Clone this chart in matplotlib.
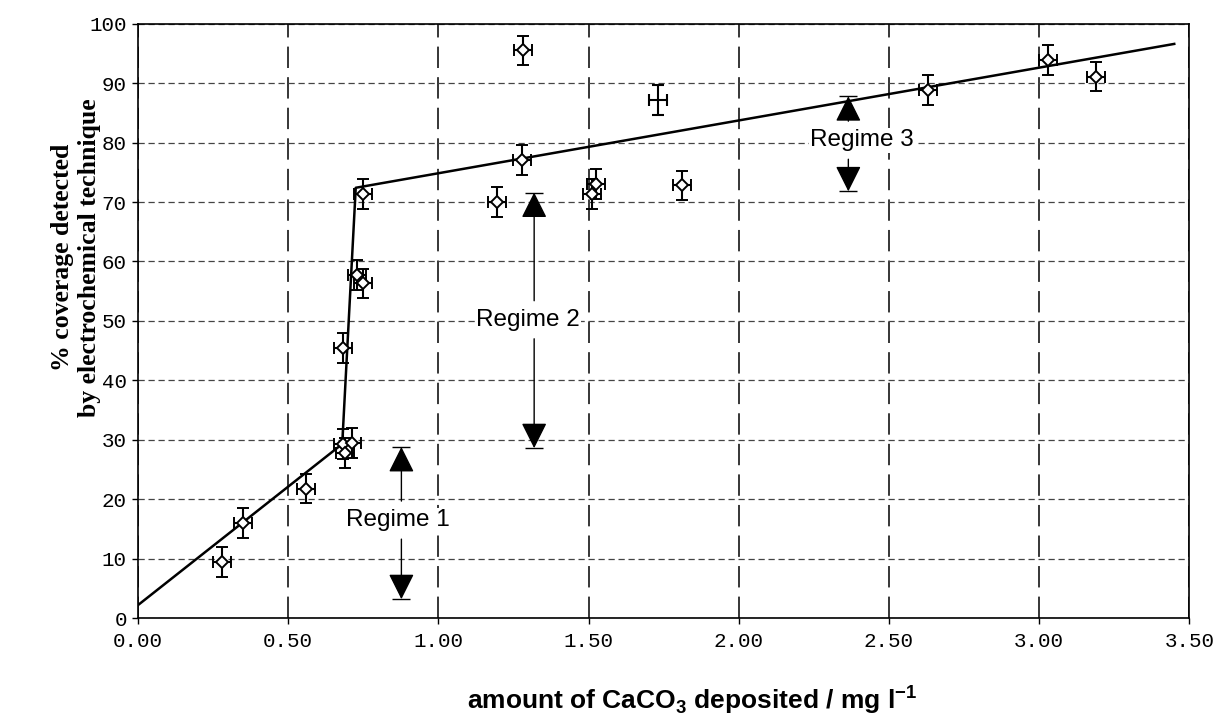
import matplotlib
matplotlib.use('Agg')
import matplotlib.pyplot as plt
from matplotlib.ticker import FormatStrFormatter

plt.rcParams['mathtext.fontset'] = 'custom'
plt.rcParams['mathtext.rm'] = 'Liberation Sans:bold'
plt.rcParams['mathtext.bf'] = 'Liberation Sans:bold'

# measured coverage vs amount of CaCO3 deposited
amount = [0.28, 0.35, 0.56, 0.683, 0.688, 0.711, 0.683, 0.73, 0.748, 0.748,
          1.196, 1.277, 1.283, 1.51, 1.525, 1.81, 2.63, 3.03, 3.19]
coverage = [9.4, 16.0, 21.8, 29.3, 27.8, 29.5, 45.5, 57.7, 56.3, 71.3,
            70.0, 77.1, 95.5, 71.3, 73.0, 72.8, 88.9, 93.9, 91.1]
amount_err = 0.03
coverage_err = 2.5

# one run plotted with error bars only
extra_amount = [1.731]
extra_coverage = [87.2]

# piecewise line through the three regimes
fit_amount = [0.0, 0.68, 0.725, 3.45]
fit_coverage = [2.2, 29.3, 72.4, 96.6]

regime_labels = ['Regime 1', 'Regime 2', 'Regime 3']
regime_x = [0.877, 1.319, 2.365]
regime_label_x = [0.864, 1.299, 2.41]
regime_label_y = [16.5, 50.2, 80.4]
regime_top = [28.8, 71.6, 87.8]
regime_bottom = [3.2, 28.6, 71.8]

fig = plt.figure(figsize=(12.21, 7.18), dpi=100)
ax = fig.add_axes([0.113, 0.139, 0.861, 0.828])

ax.set_xlim(0, 3.5)
ax.set_ylim(0, 100)
ax.set_xticks([0.5 * i for i in range(8)])
ax.set_yticks(range(0, 101, 10))
ax.xaxis.set_major_formatter(FormatStrFormatter('%.2f'))

# gridlines: long dashes vertically, short dashes horizontally
ax.xaxis.grid(True, linestyle=(0, (14, 6)), color='black', linewidth=1.1)
ax.yaxis.grid(True, linestyle=(0, (5, 3)), color='#444444', linewidth=0.9)
ax.set_axisbelow(True)

for sp in ax.spines.values():
    sp.set_color('black')
    sp.set_linewidth(1.2)

ax.tick_params(direction='out', length=4, width=1, labelsize=15, pad=4)
for lbl in ax.get_xticklabels() + ax.get_yticklabels():
    lbl.set_fontfamily('Liberation Mono')
ax.tick_params(axis='x', pad=6)

ax.plot(fit_amount, fit_coverage, color='black', linewidth=1.8, zorder=2)

ax.errorbar(amount, coverage, xerr=amount_err, yerr=coverage_err,
            fmt='D', ms=5.8, mfc='white', mec='black', mew=1.4,
            ecolor='black', elinewidth=1.5, capsize=4.5, capthick=1.5, zorder=3)
ax.errorbar(extra_amount, extra_coverage, xerr=amount_err, yerr=coverage_err,
            fmt='none', ecolor='black', elinewidth=1.5, capsize=4.5,
            capthick=1.5, zorder=3)

# regime markers: label with arrows pointing up and down to capped ends
for i in range(len(regime_labels)):
    ax.text(regime_label_x[i], regime_label_y[i], regime_labels[i],
            ha='center', va='center', fontsize=17.5,
            family='Liberation Sans', zorder=5,
            bbox=dict(facecolor='white', edgecolor='none', pad=1))
    for end, start in [(regime_top[i], regime_label_y[i] + 3.2),
                       (regime_bottom[i], regime_label_y[i] - 3.2)]:
        ax.annotate('', xy=(regime_x[i], end), xytext=(regime_x[i], start),
                    arrowprops=dict(arrowstyle='-|>', mutation_scale=40,
                                    lw=1, color='black', shrinkA=0, shrinkB=0),
                    zorder=4)
ax.plot(regime_x, regime_top, ls='none', marker='_', ms=13, mew=1,
        color='black', zorder=4)
ax.plot(regime_x, regime_bottom, ls='none', marker='_', ms=13, mew=1,
        color='black', zorder=4)

fig.text(0.0622, 0.641, '% coverage detected\nby electrochemical technique',
         rotation=90, ha='center', va='center', multialignment='center',
         fontsize=18.5, fontweight='bold', family='Liberation Serif',
         linespacing=1.2)
fig.text(0.5667, 0.025, r'amount of CaCO$_{3}$ deposited / mg l$^{-1}$',
         ha='center', va='center', fontsize=19, fontweight='bold',
         family='Liberation Sans')

fig.savefig('out.png', dpi=100, facecolor='white')
